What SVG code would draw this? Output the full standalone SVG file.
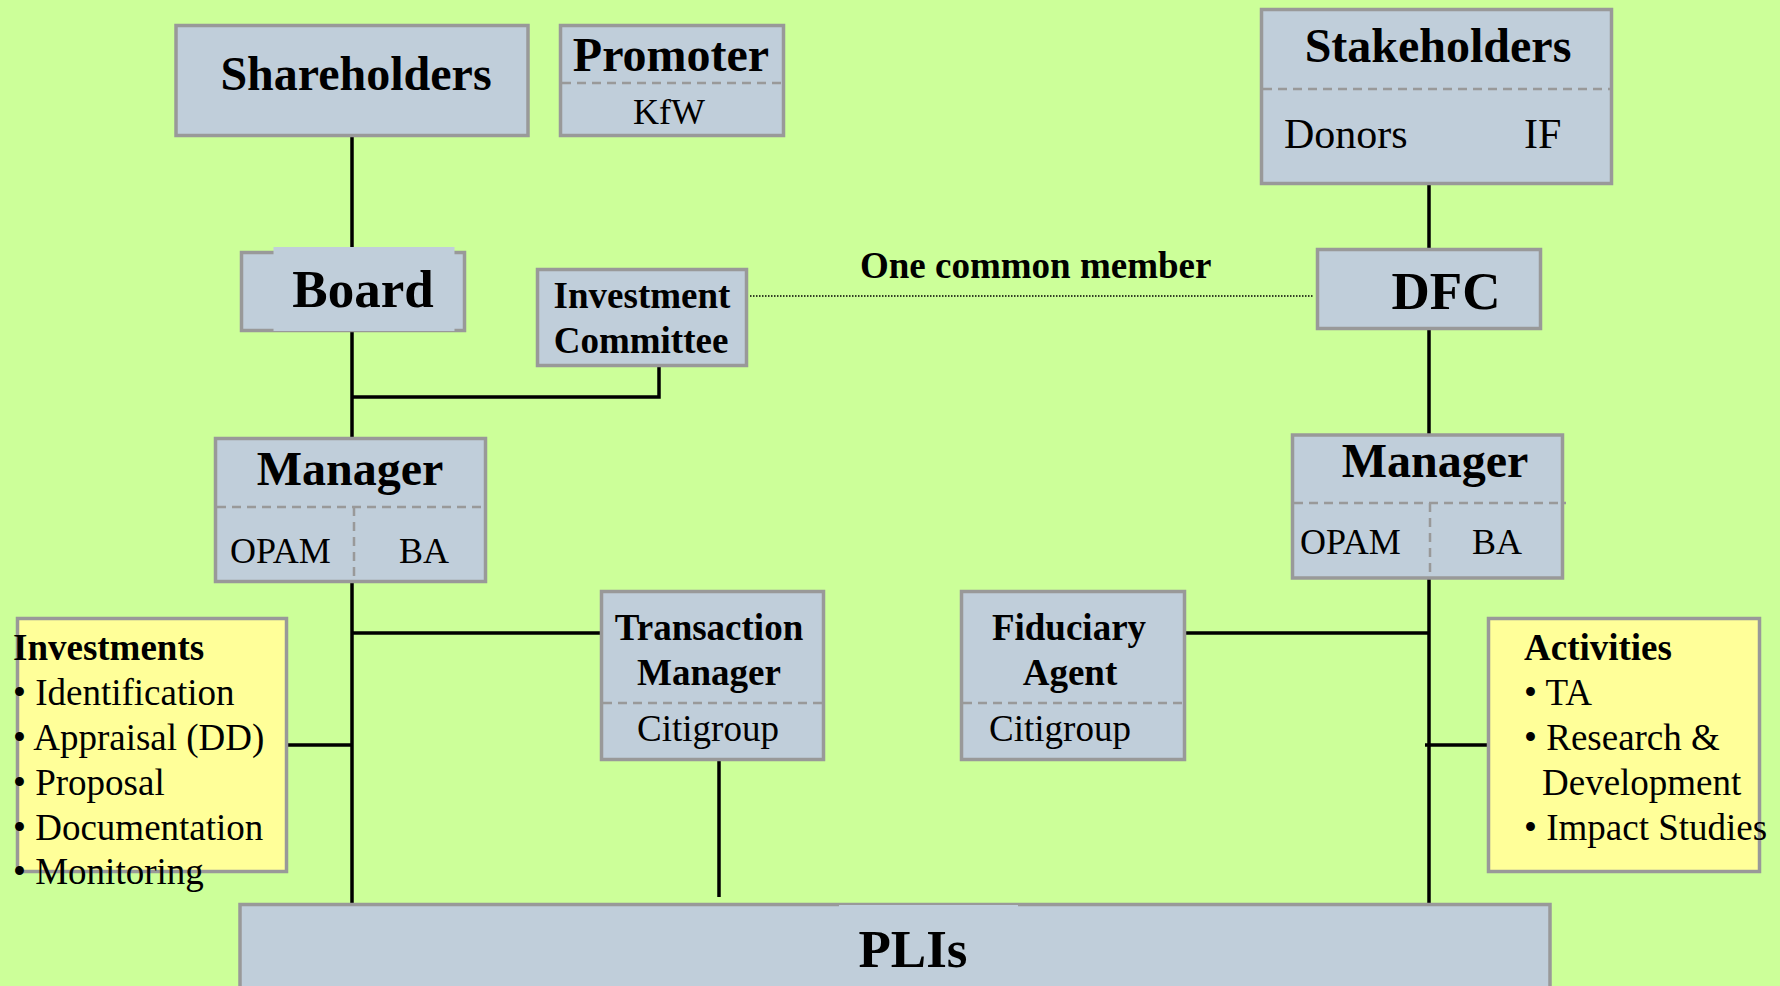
<svg xmlns="http://www.w3.org/2000/svg" width="1780" height="986" viewBox="0 0 1780 986">
<style>
.box{fill:#c0ceda;stroke:#999999;stroke-width:3.5}
.note{fill:#ffff99;stroke:#999999;stroke-width:3.5}
.fillonly{fill:#c0ceda;stroke:none}
.dash{stroke:#999999;stroke-width:2.5;stroke-dasharray:9 6;fill:none}
.conn{stroke:#000000;stroke-width:3.5;fill:none}
.dot{stroke:#000000;stroke-width:1.5;stroke-dasharray:1.5 1.5;fill:none}
text{font-family:"Liberation Serif","Times New Roman",serif;fill:#000000}
.b{font-weight:bold}
.c{text-anchor:middle}
</style>
<rect x="0" y="0" width="1780" height="986" fill="#ccff99"/>
<g id="connectors">
<line class="conn" x1="352" y1="137" x2="352" y2="251"/>
<line class="conn" x1="352" y1="331" x2="352" y2="437"/>
<polyline class="conn" points="352,397 659,397 659,367"/>
<line class="conn" x1="1429" y1="185" x2="1429" y2="248"/>
<line class="conn" x1="1429" y1="330" x2="1429" y2="434"/>
<line class="conn" x1="352" y1="582" x2="352" y2="904"/>
<line class="conn" x1="352" y1="633" x2="600" y2="633"/>
<line class="conn" x1="288" y1="745" x2="352" y2="745"/>
<line class="conn" x1="719" y1="761" x2="719" y2="897"/>
<line class="conn" x1="1429" y1="579" x2="1429" y2="904"/>
<line class="conn" x1="1186" y1="633" x2="1429" y2="633"/>
<line class="conn" x1="1425" y1="745" x2="1487" y2="745"/>
<line class="dot" x1="750" y1="296" x2="1313" y2="296"/>
<text class="b" x="860" y="278" font-size="37">One common member</text>
</g>
<g id="shareholders">
<rect class="box" x="176" y="25.5" width="352" height="110"/>
<text class="b c" x="356" y="90" font-size="48">Shareholders</text>
</g>
<g id="promoter">
<rect class="box" x="560.5" y="25.5" width="223" height="110"/>
<line class="dash" x1="562" y1="83" x2="782" y2="83"/>
<text class="b c" x="671" y="71" font-size="48">Promoter</text>
<text class="c" x="669" y="124" font-size="36">KfW</text>
</g>
<g id="stakeholders">
<rect class="box" x="1261.5" y="9.5" width="350" height="174"/>
<line class="dash" x1="1263" y1="89" x2="1610" y2="89"/>
<text class="b c" x="1438" y="62" font-size="48">Stakeholders</text>
<text x="1284" y="148" font-size="42">Donors</text>
<text x="1524" y="148" font-size="42">IF</text>
</g>
<g id="board">
<rect class="box" x="241.5" y="252.5" width="223" height="78"/>
<rect class="fillonly" x="273.5" y="247" width="181" height="84"/>
<text class="b c" x="363" y="307" font-size="53">Board</text>
</g>
<g id="investment-committee">
<rect class="box" x="537.5" y="269.5" width="209" height="96"/>
<text class="b c" x="642" y="308" font-size="37">Investment</text>
<text class="b c" x="641" y="353" font-size="37">Committee</text>
</g>
<g id="dfc">
<rect class="box" x="1317.5" y="249.5" width="223" height="79"/>
<text class="b c" x="1446" y="309" font-size="53">DFC</text>
</g>
<g id="manager-left">
<rect class="box" x="215.5" y="438.5" width="270" height="143"/>
<line class="dash" x1="217" y1="507" x2="484" y2="507"/>
<line class="dash" x1="354" y1="507" x2="354" y2="580"/>
<text class="b c" x="350" y="485" font-size="48">Manager</text>
<text x="230" y="563" font-size="36">OPAM</text>
<text x="399" y="563" font-size="36">BA</text>
</g>
<g id="manager-right">
<rect class="box" x="1292.5" y="435" width="270" height="143"/>
<line class="dash" x1="1294" y1="503" x2="1566" y2="503"/>
<line class="dash" x1="1430" y1="503" x2="1430" y2="577"/>
<text class="b c" x="1435" y="477" font-size="48">Manager</text>
<text x="1300" y="554" font-size="36">OPAM</text>
<text x="1472" y="554" font-size="36">BA</text>
</g>
<g id="transaction-manager">
<rect class="box" x="601.5" y="591.5" width="222" height="168"/>
<line class="dash" x1="603" y1="703" x2="822" y2="703"/>
<text class="b c" x="709" y="640" font-size="37">Transaction</text>
<text class="b c" x="709" y="685" font-size="37">Manager</text>
<text class="c" x="708" y="741" font-size="37">Citigroup</text>
</g>
<g id="fiduciary-agent">
<rect class="box" x="961.5" y="591.5" width="223" height="168"/>
<line class="dash" x1="963" y1="703" x2="1183" y2="703"/>
<text class="b c" x="1069" y="640" font-size="37">Fiduciary</text>
<text class="b c" x="1070" y="685" font-size="37">Agent</text>
<text class="c" x="1060" y="741" font-size="37">Citigroup</text>
</g>
<g id="investments">
<rect class="note" x="17.5" y="618.5" width="269" height="253"/>
<text class="b" x="13" y="660" font-size="37">Investments</text>
<text x="13" y="705" font-size="37">• Identification</text>
<text x="13" y="750" font-size="37">• Appraisal (DD)</text>
<text x="13" y="795" font-size="37">• Proposal</text>
<text x="13" y="840" font-size="37">• Documentation</text>
<text x="13" y="884" font-size="37">• Monitoring</text>
</g>
<g id="activities">
<rect class="note" x="1488.5" y="618.5" width="271" height="253"/>
<text class="b" x="1524" y="660" font-size="37">Activities</text>
<text x="1524" y="705" font-size="37">• TA</text>
<text x="1524" y="750" font-size="37">• Research &amp;</text>
<text x="1542" y="795" font-size="37">Development</text>
<text x="1524" y="840" font-size="37">• Impact Studies</text>
</g>
<g id="plis">
<rect class="box" x="240" y="904.5" width="1310" height="100"/>
<rect class="fillonly" x="839" y="905" width="179" height="2"/>
<text class="b c" x="913" y="967" font-size="53">PLIs</text>
</g>
</svg>
